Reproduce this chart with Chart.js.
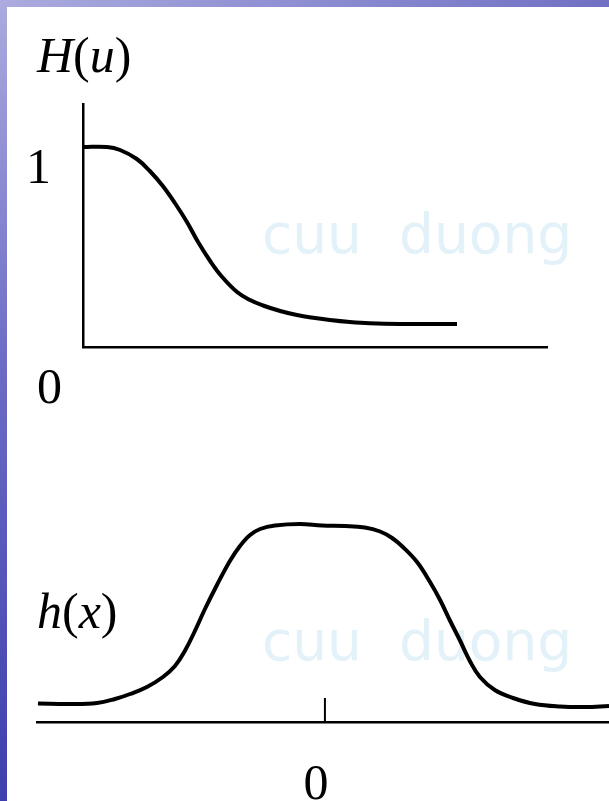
<!DOCTYPE html>
<html><head><meta charset="utf-8">
<script src="https://cdn.jsdelivr.net/npm/chart.js@4.4.1/dist/chart.umd.min.js"></script>
<style>
html,body{margin:0;padding:0;}
body{width:609px;height:801px;position:relative;overflow:hidden;background:#fff;}
#leftbar{position:absolute;left:0;top:0;width:7px;height:801px;background:linear-gradient(to bottom,#ababdf,#6c6cc6 45%,#3e3eae);z-index:5;}
#topbar{position:absolute;left:0;top:0;width:609px;height:7px;background:linear-gradient(to right,#ababdf,#7070c4);z-index:6;}
canvas{position:absolute;left:0;}
#c1{top:0;}
#c2{top:420px;}
</style></head><body>
<canvas id="c1" width="609" height="420"></canvas>
<canvas id="c2" width="609" height="381"></canvas>
<div id="leftbar"></div><div id="topbar"></div>
<script>
// ---- data ----
const uValues = [0, 0.52, 0.80, 1.16, 1.44, 1.72, 1.98, 2.24, 2.48, 2.74, 3.00, 3.32, 3.60, 3.88, 4.25, 4.61, 5.00, 5.32, 5.75, 6.18, 6.83, 8.06];
const HValues = [1.0, 1.0, 0.985, 0.94, 0.88, 0.805, 0.72, 0.625, 0.525, 0.43, 0.35, 0.275, 0.235, 0.2075, 0.18, 0.16, 0.145, 0.135, 0.125, 0.1185, 0.115, 0.115];

const xValues = [-5.98, -5.31, -4.75, -4.375, -4.06, -3.71, -3.375, -3.125, -2.92, -2.71, -2.5, -2.25, -1.98, -1.77, -1.56, -1.35, -1.04, -0.52, -0.06, 0.42, 0.83, 1.15, 1.40, 1.625, 1.92, 2.19, 2.40, 2.60, 2.81, 3.02, 3.23, 3.54, 3.92, 4.375, 4.90, 5.42, 5.92];
const hValues = [0.0925, 0.09, 0.095, 0.115, 0.14, 0.175, 0.225, 0.28, 0.355, 0.455, 0.565, 0.685, 0.805, 0.88, 0.935, 0.965, 0.9825, 0.99, 0.9825, 0.98, 0.9725, 0.9525, 0.92, 0.875, 0.80, 0.70, 0.61, 0.51, 0.41, 0.305, 0.225, 0.16, 0.12, 0.09, 0.0775, 0.075, 0.08];

const topTitle = [['H','italic'],['(','normal'],['u','italic'],[')','normal']];
const bottomTitle = [['h','italic'],['(','normal'],['x','italic'],[')','normal']];
const topYTickLabels = ['1'];
const topOriginLabel = '0';
const bottomXTickLabels = ['0'];
const watermarkWords = ['cuu', 'duong'];

// ---- helpers ----
const SERIF = '"Liberation Serif", "Times New Roman", serif';
function drawRich(ctx, parts, x, y, size) {
  ctx.save();
  ctx.fillStyle = '#000';
  ctx.textBaseline = 'alphabetic';
  ctx.textAlign = 'left';
  let cx = x;
  for (const [t, style] of parts) {
    ctx.font = style + ' ' + size + 'px ' + SERIF;
    ctx.fillText(t, cx, y);
    cx += ctx.measureText(t).width;
  }
  ctx.restore();
}
function drawWatermark(ctx, baseline) {
  ctx.save();
  ctx.fillStyle = '#e3f1f9';
  ctx.font = '55px "DejaVu Sans", sans-serif';
  ctx.textBaseline = 'alphabetic';
  ctx.textAlign = 'left';
  ctx.fillText(watermarkWords[0], 262, baseline);
  ctx.fillText(watermarkWords[1], 399, baseline);
  ctx.restore();
}

const topLabels = {
  id: 'topLabels',
  beforeDatasetsDraw(chart) { drawWatermark(chart.ctx, 253); },
  afterDraw(chart) {
    const ctx = chart.ctx, xs = chart.scales.x, ys = chart.scales.y;
    drawRich(ctx, topTitle, 37, chart.chartArea.top - 32, 50);
    ctx.save();
    ctx.fillStyle = '#000';
    ctx.font = '50px ' + SERIF;
    ctx.textAlign = 'center';
    ctx.textBaseline = 'alphabetic';
    ctx.fillText(topYTickLabels[0], xs.left - 44.5, ys.getPixelForValue(1) + 36);
    ctx.fillText(topOriginLabel, xs.left - 33.5, ys.bottom + 56);
    ctx.restore();
  }
};
const bottomLabels = {
  id: 'bottomLabels',
  beforeDatasetsDraw(chart) { drawWatermark(chart.ctx, 240); },
  afterDraw(chart) {
    const ctx = chart.ctx, xs = chart.scales.x, ys = chart.scales.y;
    drawRich(ctx, bottomTitle, 37, 208, 50);
    ctx.save();
    ctx.fillStyle = '#000';
    ctx.font = '50px ' + SERIF;
    ctx.textAlign = 'center';
    ctx.textBaseline = 'alphabetic';
    ctx.fillText(bottomXTickLabels[0], xs.getPixelForValue(0) - 9, ys.bottom + 77);
    ctx.restore();
  }
};

const hiddenTicks = {display:false};
const noGrid = {display:false, drawTicks:false};

new Chart(document.getElementById('c1'), {
  type: 'line',
  data: { datasets: [{
    data: uValues.map((u, i) => ({x: u, y: HValues[i]})),
    borderColor: '#000', borderWidth: 4, pointRadius: 0, tension: 0.4, fill: false, clip: false
  }]},
  options: {
    responsive: false, animation: false, events: [],
    layout: { padding: { left: 83, top: 104, right: 62, bottom: 73 } },
    plugins: { legend: {display:false}, tooltip: {enabled:false} },
    scales: {
      x: { type:'linear', min:0, max:10, ticks:hiddenTicks, grid:noGrid, border:{display:true, color:'#000', width:2.5} },
      y: { type:'linear', min:0, max:1.215, ticks:hiddenTicks, grid:noGrid, border:{display:true, color:'#000', width:2.5} }
    }
  },
  plugins: [topLabels]
});

new Chart(document.getElementById('c2'), {
  type: 'line',
  data: { datasets: [
    { data: xValues.map((x, i) => ({x: x, y: hValues[i]})),
      borderColor: '#000', borderWidth: 4, pointRadius: 0, tension: 0.4, fill: false, clip: false },
    { data: [{x:0, y:0}, {x:0, y:0.12}],
      borderColor: '#000', borderWidth: 2, pointRadius: 0, tension: 0, fill: false, clip: false }
  ]},
  options: {
    responsive: false, animation: false, events: [],
    layout: { padding: { left: 37, top: 82, right: 0, bottom: 79 } },
    plugins: { legend: {display:false}, tooltip: {enabled:false} },
    scales: {
      x: { type:'linear', min:-6, max:5.92, ticks:hiddenTicks, grid:noGrid, border:{display:true, color:'#000', width:2.5} },
      y: { type:'linear', min:0, max:1.1, display:false }
    }
  },
  plugins: [bottomLabels]
});
</script>
</body></html>
